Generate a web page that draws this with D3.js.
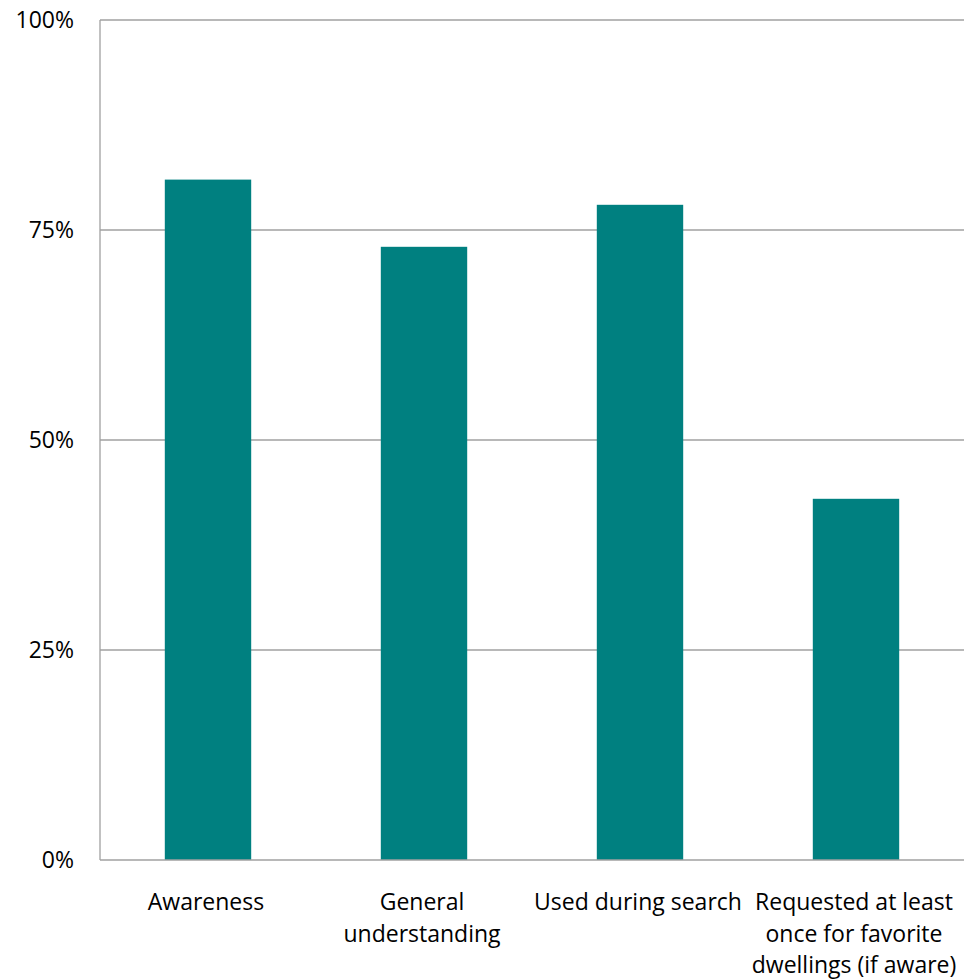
<!DOCTYPE html>
<html>
<head>
<meta charset="utf-8">
<script src="https://cdn.jsdelivr.net/npm/d3@7"></script>
<style>
  html, body { margin: 0; padding: 0; background: #fff; }
  svg text { font-family: "Open Sans", Lato, sans-serif; fill: #000; }
</style>
</head>
<body>
<svg id="chart" width="970" height="980"></svg>
<script>
// Survey results by measure
const categories = [
  ["Awareness"],
  ["General", "understanding"],
  ["Used during search"],
  ["Requested at least", "once for favorite", "dwellings (if aware)"]
];
const values = [0.81, 0.73, 0.78, 0.43];
const yTicks = [0, 0.25, 0.5, 0.75, 1];

const svg = d3.select("#chart");
const margin = { left: 100, right: 6, top: 20, bottom: 120 };
const W = 970, H = 980;

const x = d3.scaleBand()
  .domain(d3.range(categories.length))
  .range([margin.left, W - margin.right])
  .paddingInner(0.6)
  .paddingOuter(0.3);

const y = d3.scaleLinear().domain([0, 1]).range([H - margin.bottom, margin.top]);

// gridlines
svg.append("g")
  .selectAll("line")
  .data(yTicks.filter(d => d > 0))
  .join("line")
  .attr("x1", margin.left)
  .attr("x2", W - margin.right)
  .attr("y1", d => y(d))
  .attr("y2", d => y(d))
  .attr("stroke", "#a0a0a0")
  .attr("stroke-width", 1.3);

// bars
svg.append("g")
  .selectAll("rect")
  .data(values)
  .join("rect")
  .attr("x", (d, i) => x(i))
  .attr("width", x.bandwidth())
  .attr("y", d => y(d))
  .attr("height", d => y(0) - y(d))
  .attr("fill", "#008080");

// axes lines
svg.append("line")
  .attr("x1", margin.left).attr("x2", margin.left)
  .attr("y1", y(1)).attr("y2", y(0))
  .attr("stroke", "#a0a0a0").attr("stroke-width", 1.3);
svg.append("line")
  .attr("x1", margin.left).attr("x2", W - margin.right)
  .attr("y1", y(0)).attr("y2", y(0))
  .attr("stroke", "#a0a0a0").attr("stroke-width", 1.3);

// y tick labels
svg.append("g")
  .selectAll("text")
  .data(yTicks)
  .join("text")
  .attr("x", 74)
  .attr("y", d => y(d))
  .attr("dy", "0.35em")
  .attr("text-anchor", "end")
  .attr("font-size", 23)
  .text(d => d3.format(".0%")(d));

// category labels
const lab = svg.append("g")
  .selectAll("text")
  .data(categories)
  .join("text")
  .attr("text-anchor", "middle")
  .attr("font-size", 23)
  .attr("transform", (d, i) => `translate(${x(i) + x.bandwidth() / 2 - 2},910)`);
lab.selectAll("tspan")
  .data(d => d)
  .join("tspan")
  .attr("x", 0)
  .attr("y", (d, j) => j * 31.5)
  .text(d => d);
</script>
</body>
</html>
